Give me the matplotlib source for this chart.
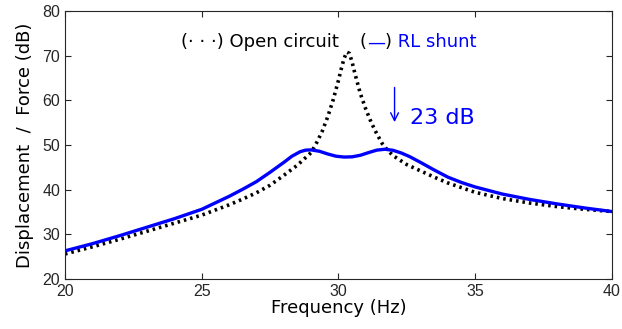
import matplotlib.pyplot as plt
import numpy as np

# open circuit response (dotted black)
f_oc = [20, 21, 22, 23, 24, 25, 26, 26.5, 27, 27.5, 28, 28.5, 29.0, 29.2, 29.4,
        29.6, 29.8, 30.0, 30.1, 30.2, 30.3, 30.4, 30.5, 30.6, 30.8, 31.0, 31.2,
        31.4, 31.6, 31.8, 32.0, 32.5, 33, 33.5, 34, 35, 36, 37, 38, 39, 40]
db_oc = [25.6, 27.2, 28.9, 30.7, 32.5, 34.3, 36.6, 37.9, 39.3, 41.0, 43.2,
         45.5, 48.3, 50.5, 53.0, 56.2, 60.0, 64.5, 67.0, 69.3, 70.8, 70.5,
         68.5, 66.0, 61.5, 58.0, 55.0, 52.5, 50.3, 48.8, 47.6, 45.6, 44.2,
         42.8, 41.5, 39.4, 38.0, 37.0, 36.2, 35.6, 35.1]

# RL shunt response (blue)
f_rl = [20, 21, 22, 23, 24, 25, 26, 26.5, 27.0, 27.5, 28.0, 28.3, 28.6, 28.8,
        29.0, 29.3, 29.6, 29.9, 30.2, 30.5, 30.8, 31.1, 31.4, 31.7, 32.0, 32.3,
        32.6, 33.0, 33.5, 34.0, 34.5, 35, 36, 37, 38, 39, 40]
db_rl = [26.3, 27.9, 29.7, 31.6, 33.5, 35.6, 38.5, 40.1, 41.8, 43.9, 46.1,
         47.5, 48.5, 48.85, 48.9, 48.6, 48.0, 47.5, 47.3, 47.35, 47.7, 48.3,
         48.85, 49.05, 48.8, 48.2, 47.4, 46.1, 44.4, 42.8, 41.6, 40.6, 39.0,
         37.8, 36.8, 35.9, 35.1]

blue = (0, 0, 1)
fs = 13

fig = plt.figure(figsize=(6.22, 3.29), dpi=100)
ax = fig.add_axes([0.1045, 0.152, 0.8794, 0.8146])

ax.plot(f_oc, db_oc, color='k', lw=2.6, ls=(0, (0.7, 1.1)))
ax.plot(f_rl, db_rl, color=blue, lw=2.4)

ax.set_xlim(20, 40)
ax.set_ylim(20, 80)
ax.set_xticks([20, 25, 30, 35, 40])
ax.set_yticks([20, 30, 40, 50, 60, 70, 80])
ax.tick_params(direction='in', top=True, right=True, length=4, width=0.8,
               labelsize=11.5, color='#262626', labelcolor='#262626')
for lab in ax.get_xticklabels() + ax.get_yticklabels():
    lab.set_family('Liberation Sans')
for s in ax.spines.values():
    s.set_color('#262626')
    s.set_linewidth(0.8)

ax.set_xlabel('Frequency (Hz)', fontsize=fs, labelpad=0)
ax.set_ylabel('Displacement  /  Force (dB)', fontsize=fs, labelpad=6)

# legend written as text pieces
t1 = ax.text(24.25, 73, '(\u00b7 \u00b7 \u00b7) Open circuit', fontsize=fs,
             va='center', ha='left', color='k')
t2 = ax.annotate('(', xy=(1, 0), xycoords=t1, xytext=(15, 0),
                 textcoords='offset points', fontsize=fs, va='bottom', color='k')
t3 = ax.annotate('\u2014', xy=(1, 0), xycoords=t2, fontsize=fs,
                 va='bottom', color=blue)
t4 = ax.annotate(')', xy=(1, 0), xycoords=t3, fontsize=fs,
                 va='bottom', color='k')
ax.annotate(' RL shunt', xy=(1, 0), xycoords=t4, fontsize=fs,
            va='bottom', color=blue)

# reduction annotation
ax.annotate('', xy=(32.05, 54.5), xytext=(32.05, 63.5),
            arrowprops=dict(arrowstyle='->', color=blue, lw=1.0,
                            mutation_scale=14))
ax.text(32.6, 56, '23 dB', fontsize=16, color=blue, va='center', ha='left')

fig.savefig('out.png', dpi=100)
